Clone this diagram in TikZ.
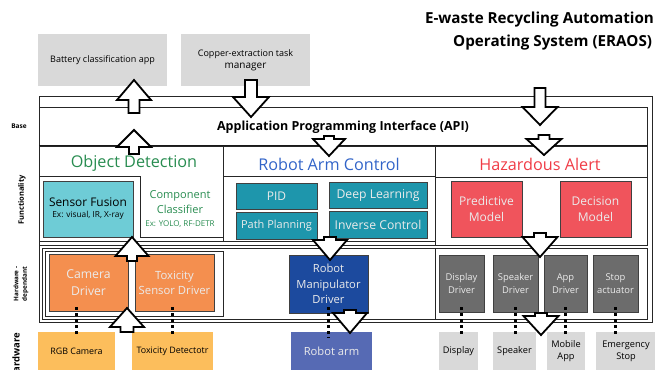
\documentclass[tikz,border=0pt]{standalone}
\usepackage{fontspec}
\setmainfont{Open Sans}
\usetikzlibrary{calc}
\definecolor{lgray}{RGB}{217,217,217}
\definecolor{sfcyan}{RGB}{110,204,214}
\definecolor{rteal}{RGB}{30,150,172}
\definecolor{hzbox}{RGB}{240,84,92}
\definecolor{drvorange}{RGB}{244,143,79}
\definecolor{rmblue}{RGB}{28,74,158}
\definecolor{drvgray}{RGB}{108,108,108}
\definecolor{hwyellow}{RGB}{252,190,92}
\definecolor{hwblue}{RGB}{86,106,180}
\definecolor{odgreen}{RGB}{40,140,80}
\definecolor{rablue}{RGB}{50,100,200}
\definecolor{hzred}{RGB}{240,60,70}
\definecolor{lighttxt}{RGB}{235,235,235}
\newcommand{\fs}[2]{\fontsize{#1pt}{#2pt}\selectfont}
\newcommand{\mybox}[7]{\node[#6, minimum width={(#4-#2)*1pt}, minimum height={(#5-#3)*1pt}] (#1) at ({(#2+#4)/2},{(#3+#5)/2}) {#7};}
\newcommand{\blockarr}[6]{\draw[arrowblk] ({#1-#6},#2) -- ({#1-#6},#3) -- ({#1-#5},#3) -- (#1,#4) -- ({#1+#5},#3) -- ({#1+#6},#3) -- ({#1+#6},#2) -- cycle;}
\begin{document}
\begin{tikzpicture}[x=1pt,y=-1pt,
  frame/.style={draw=black!85, line width=1pt},
  thickframe/.style={draw=black!90, line width=1.5pt},
  bx/.style={draw=black!75, line width=1pt, inner sep=0pt, outer sep=0pt, align=center},
  flat/.style={inner sep=0pt, outer sep=0pt, align=center},
  arrowblk/.style={draw=black, fill=white, line width=1.8pt, line join=miter},
  dotl/.style={draw=black, line width=3pt, dash pattern=on 3pt off 3pt},
  txt/.style={inner sep=0pt, outer sep=0pt, align=center}]
\useasboundingbox (0,0) rectangle (655,369);

% title
\node[txt, anchor=east, font=\fs{15.2}{19}\bfseries] (t1) at (654,20) {E-waste Recycling Automation};
\node[txt, anchor=east, font=\fs{15.2}{19}\bfseries] (t2) at (652,43) {Operating System (ERAOS)};

% top application boxes
\mybox{bat}{38}{34}{167}{86}{flat, fill=lgray}{\fs{9}{11}Battery classification app}
\mybox{cop}{181}{34}{310}{86}{flat, fill=lgray}{\fs{9}{13}Copper-extraction task\\manager}

% frames
\draw[frame] (39,96) rectangle (652,322);
\draw[frame] (39,107) -- (647,107) -- (647,146);
\draw[thickframe] (39,146) -- (647,146);
% functionality row
\draw[frame] (39,146) rectangle (223,241);
\draw[frame] (223,146) rectangle (435,241);
\draw[frame] (435,146) rectangle (647,245);
\draw[frame] (39,245) -- (435,245);
\draw[frame] (39,176) -- (140,176) -- (140,237) -- (223,237);
\draw[frame] (223,176) -- (435,176);
\draw[frame] (435,177) -- (647,177);
% hardware-dependant row
\draw[frame] (42,248) rectangle (647,319);
\draw[frame] (45,251) rectangle (223,316);
\draw[frame] (435,248) -- (435,319);

% left labels
\node[txt, font=\fs{6.5}{8}\bfseries] (lbase) at (19,126) {Base};
\node[txt, rotate=90, font=\fs{7.5}{9}\bfseries] (lfun) at (22,200) {Functionality};
\node[txt, rotate=90, font=\fs{6.3}{8.5}\bfseries] (lhwd) at (21,284) {Hardware -\\dependant};
\node[txt, rotate=90, anchor=east, font=\fs{9.5}{11}\bfseries] (lhw) at (16,333) {Hardware};

% API
\node[txt, font=\fs{12.5}{15}\bfseries] (api) at (343,127) {Application Programming Interface (API)};

% column titles
\node[txt, text=odgreen, font=\fs{16.2}{19}] (odt) at (134,163) {Object Detection};
\node[txt, text=rablue, font=\fs{16.2}{19}] (rat) at (329,164) {Robot Arm Control};
\node[txt, text=hzred, font=\fs{16.2}{19}] (hzt) at (540,164) {Hazardous Alert};

% object detection
\mybox{sf}{43}{181}{133}{237}{bx, fill=sfcyan}{{\fs{11.9}{14}Sensor Fusion}\\[-1pt]{\fs{8.3}{10}Ex: visual, IR, X-ray}}
\node[txt, text=odgreen, font=\fs{11}{15}] (cc) at (180,209.5) {Component\\Classifier\\[-2pt]{\fs{8}{10}Ex: YOLO, RF-DETR}};

% robot arm control
\mybox{pid}{236}{183}{317}{209}{bx, fill=rteal, text=lighttxt, font=\fs{12}{14}}{PID}
\mybox{pp}{236}{212}{317}{239}{bx, fill=rteal, text=lighttxt, font=\fs{11}{13}}{Path Planning}
\mybox{dl}{329}{182}{427}{208}{bx, fill=rteal, text=lighttxt, font=\fs{12.2}{14}}{Deep Learning}
\mybox{ic}{329}{211}{427}{238}{bx, fill=rteal, text=lighttxt, font=\fs{12.2}{14}}{Inverse Control}

% hazardous alert
\mybox{pm}{451}{181}{522}{237}{bx, fill=hzbox, text=lighttxt, font=\fs{12}{16.5}}{Predictive\\Model}
\mybox{dm}{560}{181}{631}{237}{bx, fill=hzbox, text=lighttxt, font=\fs{12}{16.5}}{Decision\\Model}

% drivers
\mybox{cam}{49}{254}{128}{311}{bx, fill=drvorange, text=lighttxt, font=\fs{12.2}{17}}{Camera\\Driver}
\mybox{tox}{135}{254}{214}{311}{bx, fill=drvorange, text=lighttxt, font=\fs{11.3}{15}}{Toxicity\\Sensor Driver}
\mybox{rmd}{289}{255}{368}{313}{bx, fill=rmblue, text=lighttxt, font=\fs{11.2}{15.5}}{Robot\\Manipulator\\Driver}
\mybox{dd}{439}{255}{484}{312}{bx, fill=drvgray, text=lighttxt, font=\fs{9.4}{12.5}}{Display\\Driver}
\mybox{sd}{493}{255}{538}{312}{bx, fill=drvgray, text=lighttxt, font=\fs{9.4}{12.5}}{Speaker\\Driver}
\mybox{ad}{544}{255}{587}{312}{bx, fill=drvgray, text=lighttxt, font=\fs{9.4}{12.5}}{App\\Driver}
\mybox{sa}{593}{255}{638}{312}{bx, fill=drvgray, text=lighttxt, font=\fs{9.4}{12.5}}{Stop\\actuator}

% hardware
\mybox{rgb}{38}{332}{115}{370}{flat, fill=hwyellow, font=\fs{8.9}{10}}{RGB Camera}
\mybox{txd}{132}{332}{213}{370}{flat, fill=hwyellow, font=\fs{8.9}{10}}{Toxicity Detectotr}
\mybox{ra}{291}{332}{372}{370}{flat, fill=hwblue, text=lighttxt, font=\fs{11.2}{12}}{Robot arm}
\mybox{dsp}{439}{332}{478}{370}{flat, fill=lgray, font=\fs{9.2}{10}}{Display}
\mybox{spk}{493}{332}{536}{370}{flat, fill=lgray, font=\fs{9.2}{10}}{Speaker}
\mybox{mob}{547}{332}{585}{370}{flat, fill=lgray, font=\fs{9.2}{12.5}}{Mobile\\App}
\mybox{est}{596}{332}{656}{370}{flat, fill=lgray, font=\fs{9.2}{12}}{Emergency\\Stop}

% dotted connectors
\draw[dotl] ($(cam.south -| rgb.north)+(0,-4)$) -- ($(rgb.north)+(0,5)$);
\draw[dotl] ($(tox.south -| txd.north)+(0,-4)$) -- ($(txd.north)+(0,5)$);
\draw[dotl] ($(rmd.south)+(0,-6)$) -- ($(rmd.south |- ra.north)+(0,6)$);
\draw[dotl] ($(dd.south)+(0,-5)$) -- ($(dd.south |- dsp.north)+(0,5)$);
\draw[dotl] ($(sd.south)+(0,-5)$) -- ($(sd.south |- spk.north)+(0,5)$);
\draw[dotl] ($(ad.south)+(0,-5)$) -- ($(ad.south |- mob.north)+(0,5)$);
\draw[dotl] ($(sa.south)+(0,-5)$) -- ($(sa.south |- est.north)+(0,5)$);

% block arrows: cx, tail y, head base y, tip y, head half width, shaft half width
\blockarr{134}{113}{100}{80}{17}{5.5}
\blockarr{251}{80}{97}{117}{18}{6}
\blockarr{134}{154}{147}{130}{17}{5}
\blockarr{540}{88}{107}{125}{17.5}{5.5}
\blockarr{544}{135}{139}{155}{17.5}{5.5}
\blockarr{329}{136}{139}{156}{16}{5}
\blockarr{132}{261}{256}{237}{16.5}{5}
\blockarr{127}{332}{327}{308}{17}{6.5}
\blockarr{330}{237}{240}{260}{17}{6}
\blockarr{350}{310}{313}{333}{17}{6}
\blockarr{540}{233}{237}{257}{17.5}{6}
\blockarr{541}{313}{316}{335}{17.5}{6}
\end{tikzpicture}
\end{document}
